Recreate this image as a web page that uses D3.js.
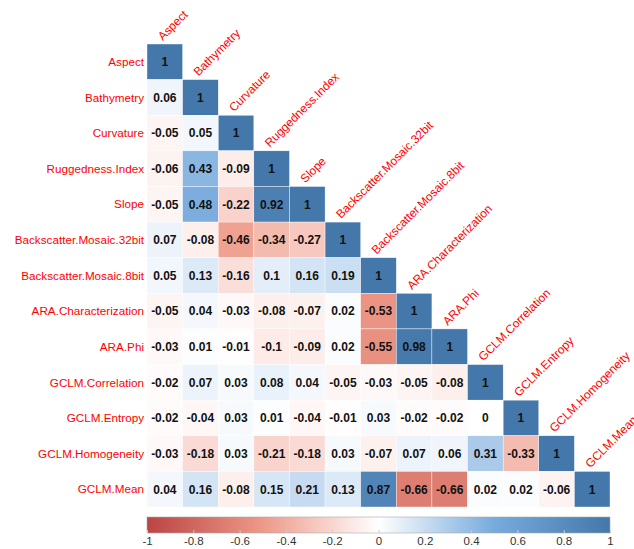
<!DOCTYPE html>
<html>
<head>
<meta charset="utf-8">
<script src="https://cdn.jsdelivr.net/npm/d3@7"></script>
<style>
  body { margin: 0; background: #fff; }
  svg { display: block; font-family: "Liberation Sans", Arial, sans-serif; }
</style>
</head>
<body>
<div id="chart"></div>
<script>
// Variables, in the order of the matrix
var variables = ["Aspect", "Bathymetry", "Curvature", "Ruggedness.Index", "Slope",
    "Backscatter.Mosaic.32bit", "Backscatter.Mosaic.8bit", "ARA.Characterization",
    "ARA.Phi", "GCLM.Correlation", "GCLM.Entropy", "GCLM.Homogeneity", "GCLM.Mean"];

// Lower triangle of the correlation matrix, one row per variable
var corrRows = [
    [1],
    [0.06, 1],
    [-0.05, 0.05, 1],
    [-0.06, 0.43, -0.09, 1],
    [-0.05, 0.48, -0.22, 0.92, 1],
    [0.07, -0.08, -0.46, -0.34, -0.27, 1],
    [0.05, 0.13, -0.16, 0.1, 0.16, 0.19, 1],
    [-0.05, 0.04, -0.03, -0.08, -0.07, 0.02, -0.53, 1],
    [-0.03, 0.01, -0.01, -0.1, -0.09, 0.02, -0.55, 0.98, 1],
    [-0.02, 0.07, 0.03, 0.08, 0.04, -0.05, -0.03, -0.05, -0.08, 1],
    [-0.02, -0.04, 0.03, 0.01, -0.04, -0.01, 0.03, -0.02, -0.02, 0, 1],
    [-0.03, -0.18, 0.03, -0.21, -0.18, 0.03, -0.07, 0.07, 0.06, 0.31, -0.33, 1],
    [0.04, 0.16, -0.08, 0.15, 0.21, 0.13, 0.87, -0.66, -0.66, 0.02, 0.02, -0.06, 1]
];

// Colour bar ticks
var legendTicks = [-1, -0.8, -0.6, -0.4, -0.2, 0, 0.2, 0.4, 0.6, 0.8, 1];

var width = 634, height = 549;
var gridLeft = 147, gridTop = 44, gridSize = 463;

var svg = d3.select("#chart").append("svg")
    .attr("width", width)
    .attr("height", height);

var x = d3.scaleBand().domain(variables).range([gridLeft, gridLeft + gridSize]);
var y = d3.scaleBand().domain(variables).range([gridTop, gridTop + gridSize]);

var color = d3.scaleLinear()
    .domain([-1, -0.5, 0, 0.5, 1])
    .range(["#BB4444", "#EE9988", "#FFFFFF", "#77AADD", "#4477AA"])
    .interpolate(d3.interpolateRgb);

// flatten to cells
var cells = [];
corrRows.forEach(function (row, i) {
    row.forEach(function (v, j) {
        cells.push({ row: variables[i], col: variables[j], value: v });
    });
});

svg.selectAll(".cell")
    .data(cells)
    .enter()
    .append("rect")
    .attr("class", "cell")
    .attr("x", function (d) { return x(d.col); })
    .attr("y", function (d) { return y(d.row); })
    .attr("width", x.bandwidth())
    .attr("height", y.bandwidth())
    .attr("fill", function (d) { return color(d.value); })
    .attr("stroke", "#ffffff")
    .attr("stroke-width", 0.4);

svg.selectAll(".coef")
    .data(cells)
    .enter()
    .append("text")
    .attr("class", "coef")
    .attr("x", function (d) { return x(d.col) + x.bandwidth() / 2; })
    .attr("y", function (d) { return y(d.row) + y.bandwidth() / 2; })
    .attr("dy", "0.36em")
    .attr("text-anchor", "middle")
    .attr("font-size", "12px")
    .attr("font-weight", "bold")
    .attr("fill", "#111")
    .text(function (d) { return d.value; });

// row labels
svg.selectAll(".row-label")
    .data(variables)
    .enter()
    .append("text")
    .attr("class", "row-label")
    .attr("x", gridLeft - 3)
    .attr("y", function (d) { return y(d) + y.bandwidth() / 2; })
    .attr("dy", "0.36em")
    .attr("text-anchor", "end")
    .attr("font-size", "11.7px")
    .attr("fill", "#FF0000")
    .text(function (d) { return d; });

// column labels, rotated above the diagonal
svg.selectAll(".col-label")
    .data(variables)
    .enter()
    .append("text")
    .attr("class", "col-label")
    .attr("transform", function (d) {
        return "translate(" + (x(d) + x.bandwidth() / 2 - 2) + "," + (y(d) - 3) + ")rotate(-45)";
    })
    .attr("font-size", "11.9px")
    .attr("fill", "#FF0000")
    .text(function (d) { return d; });

// colour bar
var defs = svg.append("defs");
var grad = defs.append("linearGradient").attr("id", "cbar");
d3.range(0, 1.0001, 0.05).forEach(function (t) {
    grad.append("stop")
        .attr("offset", (t * 100) + "%")
        .attr("stop-color", color(-1 + 2 * t));
});

var barTop = 517, barHeight = 16;
var lx = d3.scaleLinear().domain([-1, 1]).range([gridLeft, gridLeft + gridSize]);

svg.append("rect")
    .attr("x", lx(-1))
    .attr("y", barTop)
    .attr("width", lx(1) - lx(-1))
    .attr("height", barHeight)
    .attr("fill", "url(#cbar)")
    .attr("stroke", "#aaa")
    .attr("stroke-width", 0.6);

var legendAxis = svg.append("g")
    .attr("transform", "translate(0," + (barTop + barHeight) + ")")
    .call(d3.axisBottom(lx).tickValues(legendTicks).tickSize(-3).tickPadding(4)
        .tickFormat(function (d) { return String(+d.toFixed(1)); }));

legendAxis.select(".domain").remove();
legendAxis.selectAll("line").attr("stroke", "#ccc");
legendAxis.selectAll("text")
    .attr("font-size", "11.5px")
    .attr("font-family", "\"Liberation Sans\", Arial, sans-serif")
    .attr("fill", "#333");
</script>
</body>
</html>
